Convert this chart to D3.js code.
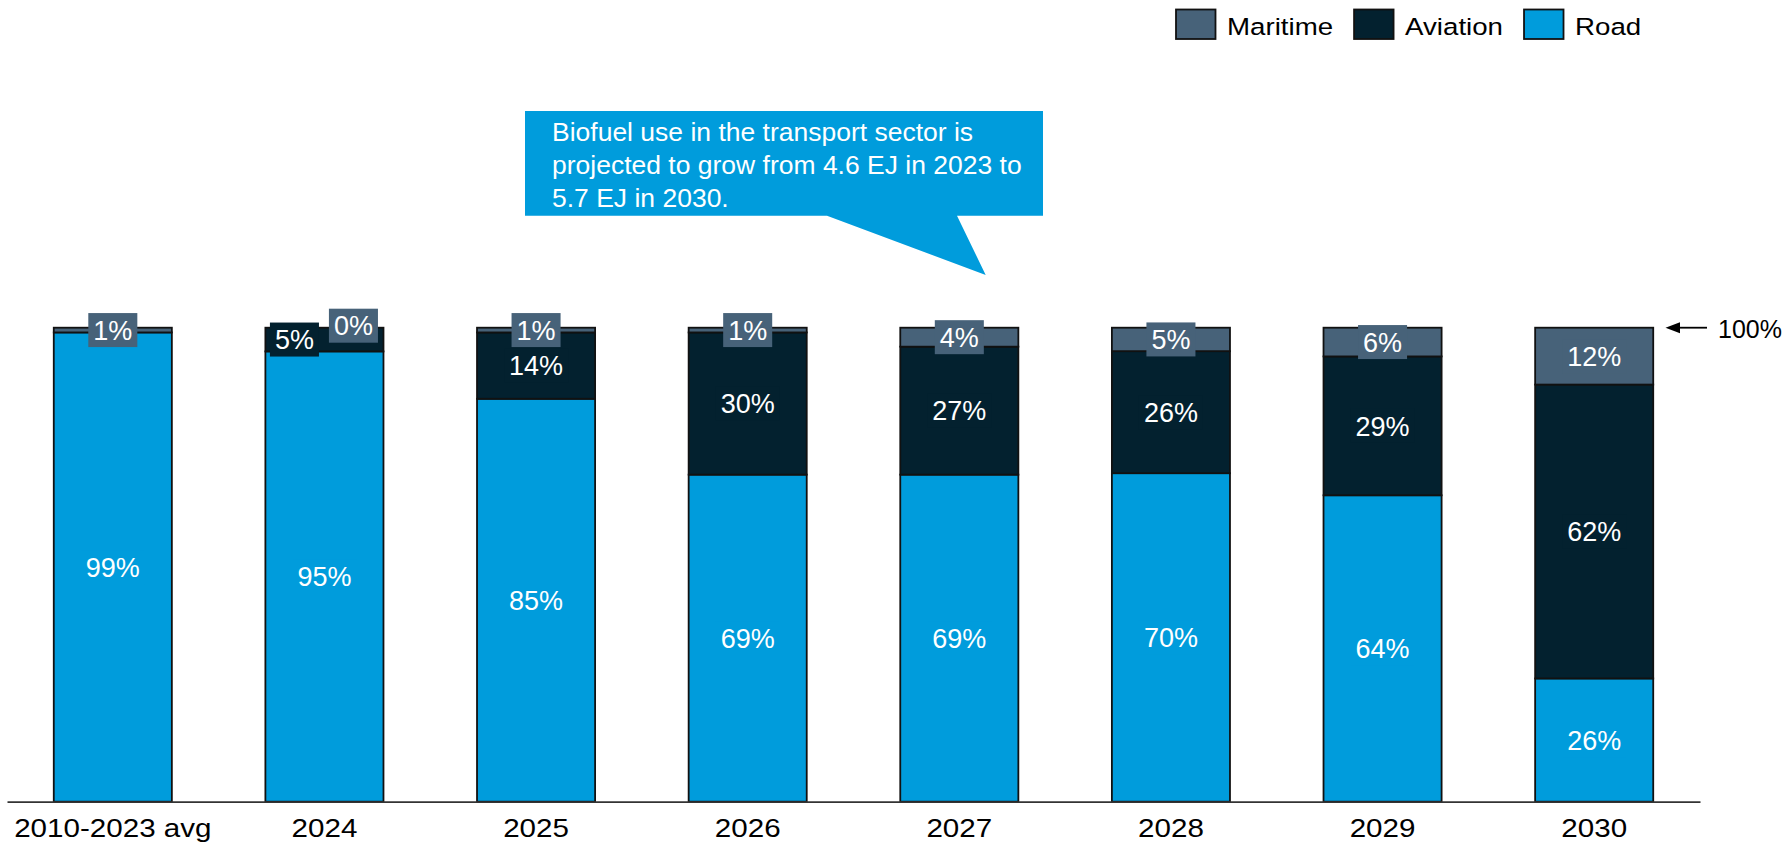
<!DOCTYPE html>
<html>
<head>
<meta charset="utf-8">
<script src="https://cdn.jsdelivr.net/npm/d3@7"></script>
<style>
  html, body { margin: 0; padding: 0; background: #ffffff; }
  svg { display: block; font-family: "Liberation Sans", Arial, Helvetica, sans-serif; }
</style>
</head>
<body>
<svg id="chart" width="1788" height="842"></svg>
<script>
// Share of biofuel use by transport mode (% of total)
const categories = ["2010-2023 avg", "2024", "2025", "2026", "2027", "2028", "2029", "2030"];
const road     = [99, 95, 85, 69, 69, 70, 64, 26];
const aviation = [0, 5, 14, 30, 27, 26, 29, 62];
const maritime = [1, 0, 1, 1, 4, 5, 6, 12];

const stackKeys = ["Road", "Aviation", "Maritime"];
const legendKeys = ["Maritime", "Aviation", "Road"];
const calloutLines = [
  "Biofuel use in the transport sector is",
  "projected to grow from 4.6 EJ in 2023 to",
  "5.7 EJ in 2030."
];

const colors = { Road: "#009cdc", Aviation: "#03212f", Maritime: "#476279" };
const outline = "#111111";

// Hand nudges for labels that would collide on thin segments
const labelNudge = { "2024": { Aviation: [-30, 0], Maritime: [29, -2] } };

const svg = d3.select("#chart");

const rows = categories.map((c, i) => ({
  category: c, Road: road[i], Aviation: aviation[i], Maritime: maritime[i]
}));
const stacked = d3.stack().keys(stackKeys).offset(d3.stackOffsetExpand)(rows);

const x = d3.scaleBand()
  .domain(categories)
  .range([7, 1700])
  .paddingInner(0.442)
  .paddingOuter(0.221);

const y = d3.scaleLinear().domain([0, 1]).range([801.7, 327.7]);

// stacked bars
const layers = svg.append("g").attr("class", "bars")
  .selectAll("g")
  .data(stacked)
  .join("g")
  .attr("fill", d => colors[d.key]);

layers.selectAll("rect")
  .data(d => d.map(s => ({ s, key: d.key })))
  .join("rect")
  .attr("x", d => x(d.s.data.category))
  .attr("y", d => y(d.s[1]))
  .attr("width", x.bandwidth())
  .attr("height", d => Math.max(0, y(d.s[0]) - y(d.s[1])))
  .attr("stroke", outline)
  .attr("stroke-width", 1.8);

// category axis
const axis = svg.append("g")
  .attr("transform", `translate(0,${y(0)})`)
  .call(d3.axisBottom(x).tickSize(0).tickSizeOuter(0));
axis.select(".domain").attr("stroke", "#333333").attr("stroke-width", 1.8);
axis.selectAll(".tick text")
  .attr("x", 0)
  .attr("y", 0)
  .attr("dy", null)
  .attr("fill", "#000000")
  .attr("font-size", 25.5)
  .attr("font-family", "\"Liberation Sans\", Arial, sans-serif")
  .style("transform", "translate(0px, 35.5px) scale(1.16, 1)");

// segment value labels with colour-matched backing boxes
const labelData = [];
stacked.forEach(layer => {
  layer.forEach(s => {
    const v = s.data[layer.key];
    if (layer.key !== "Maritime" && v === 0) return;
    const nudge = (labelNudge[s.data.category] || {})[layer.key] || [0, 0];
    labelData.push({
      key: layer.key,
      text: v + "%",
      cx: x(s.data.category) + x.bandwidth() / 2 + nudge[0],
      cy: y((s[0] + s[1]) / 2) + nudge[1]
    });
  });
});

const labels = svg.append("g").attr("class", "labels")
  .selectAll("g")
  .data(labelData)
  .join("g")
  .attr("transform", d => `translate(${d.cx},${d.cy})`);

labels.append("text")
  .attr("text-anchor", "middle")
  .attr("dy", "0.36em")
  .attr("font-size", 27)
  .attr("fill", "#ffffff")
  .text(d => d.text);

labels.each(function (d) {
  const t = d3.select(this).select("text");
  const w = t.node().getComputedTextLength() + 10;
  d3.select(this).insert("rect", "text")
    .attr("x", -w / 2)
    .attr("y", -17)
    .attr("width", w)
    .attr("height", 34)
    .attr("fill", colors[d.key]);
});

// 100% marker
const topY = y(1);
const marker = svg.append("g");
marker.append("line")
  .attr("x1", 1678).attr("x2", 1707)
  .attr("y1", topY).attr("y2", topY)
  .attr("stroke", "#000").attr("stroke-width", 1.8);
marker.append("path")
  .attr("d", `M1665.5,${topY} L1680,${topY - 5.5} L1680,${topY + 5.5} Z`)
  .attr("fill", "#000");
marker.append("text")
  .attr("x", 1718)
  .attr("y", topY + 10.5)
  .attr("font-size", 25)
  .attr("fill", "#000")
  .text("100%");

// callout
const callout = svg.append("g");
callout.append("path")
  .attr("d", "M525,111 L1043,111 L1043,215.7 L957,215.7 L985.7,275 L827,215.7 L525,215.7 Z")
  .attr("fill", colors.Road);
callout.selectAll("text")
  .data(calloutLines)
  .join("text")
  .attr("transform", (d, i) => `translate(552,${141 + i * 33}) scale(1.06,1)`)
  .attr("font-size", 25)
  .attr("fill", "#ffffff")
  .text(d => d);

// legend
const legend = svg.append("g").attr("class", "legend");
let lx = 1176;
legendKeys.forEach(k => {
  const item = legend.append("g");
  item.append("rect")
    .attr("x", lx).attr("y", 9.5)
    .attr("width", 39.5).attr("height", 29.5)
    .attr("fill", colors[k])
    .attr("stroke", outline)
    .attr("stroke-width", 1.8);
  const t = item.append("text")
    .attr("transform", `translate(${lx + 51},35) scale(1.13,1)`)
    .attr("font-size", 24.5)
    .attr("fill", "#000")
    .text(k);
  const tw = t.node().getComputedTextLength() * 1.13;
  lx = lx + 51 + tw + 21;
});
</script>
</body>
</html>
